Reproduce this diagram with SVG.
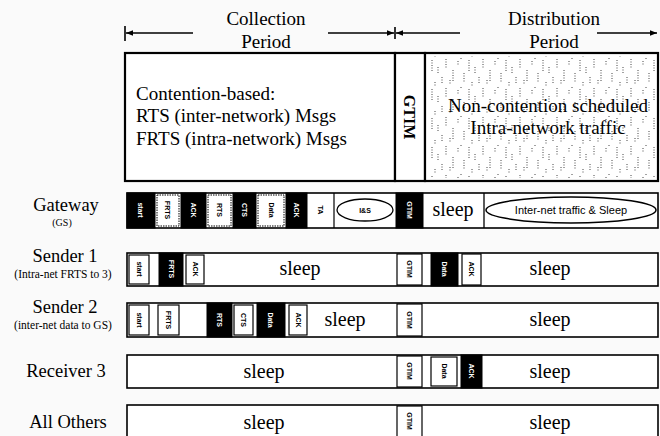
<svg xmlns="http://www.w3.org/2000/svg" width="660" height="436" viewBox="0 0 660 436">
<style>
.ser{font-family:"Liberation Serif","Times New Roman",serif;fill:#000}
.big{font-size:19px}
.lab{font-size:18.5px}
.sub{font-size:11.5px}
.sl{font-size:20px}
.tiny{font-family:"Liberation Sans",Arial,sans-serif;font-size:7px;font-weight:bold}
.wt{fill:#fff}
.bt{fill:#000}
.row{fill:#fff;stroke:#000;stroke-width:1.6}
.blk{fill:#000;stroke:#000;stroke-width:1}
.wb{fill:#fff;stroke:#000;stroke-width:1.2}
.wd{fill:#fff;stroke:#000;stroke-width:1;stroke-dasharray:1.5 1}
.thick{fill:#fff;stroke:#000;stroke-width:2.2}
.arr{stroke:#000;stroke-width:1.6;fill:none}
</style>
<defs>
<marker id="ah" viewBox="0 0 10 10" refX="10" refY="5" markerWidth="7" markerHeight="7" orient="auto-start-reverse" markerUnits="userSpaceOnUse">
<path d="M0 1L10 5L0 9z" fill="#000"/>
</marker>
<pattern id="noise" width="37" height="29" patternUnits="userSpaceOnUse">
<path d="M2 1v9M9 12v11M14 3v5M20 15v9M25 2v12M31 9v7M35 19v6M6 22v5M17 0v2M28 24v4" stroke="#444" stroke-width="1" stroke-dasharray="1 1.5"/>
</pattern>
</defs>
<rect width="660" height="436" fill="#fafafa"/>

<g id="connectors">
<line x1="125" y1="26" x2="125" y2="41" class="arr"/>
<line x1="193" y1="33" x2="126" y2="33" class="arr" marker-end="url(#ah)"/>
<line x1="328" y1="33" x2="394" y2="33" class="arr" marker-end="url(#ah)"/>
<line x1="395" y1="27" x2="395" y2="39" class="arr"/>
<line x1="460" y1="33" x2="396" y2="33" class="arr" marker-end="url(#ah)"/>
<line x1="597" y1="33" x2="657" y2="33" class="arr" marker-end="url(#ah)"/>
</g>

<g id="collection-label">
<text x="266" y="25" class="ser big" text-anchor="middle">Collection</text>
<text x="266" y="48" class="ser big" text-anchor="middle">Period</text>
</g>
<g id="distribution-label">
<text x="554" y="25" class="ser big" text-anchor="middle">Distribution</text>
<text x="554" y="48" class="ser big" text-anchor="middle">Period</text>
</g>

<g id="collection-box">
<rect x="125" y="53" width="270" height="128" class="thick"/>
<text x="136" y="100" class="ser big">Contention-based:</text>
<text x="136" y="122" class="ser big">RTS (inter-network) Msgs</text>
<text x="136" y="145" class="ser big">FRTS (intra-network) Msgs</text>
</g>
<g id="gtim-box">
<rect x="395" y="53" width="30" height="128" class="thick"/>
<text transform="translate(404,117) rotate(90)" class="ser" font-size="16" font-weight="bold" text-anchor="middle">GTIM</text>
</g>
<g id="distribution-box">
<rect x="425" y="53" width="233" height="128" class="thick"/>
<rect x="428" y="56" width="228" height="122" fill="url(#noise)"/>
<text x="548" y="112" class="ser big" text-anchor="middle">Non-contention scheduled</text>
<text x="548" y="134" class="ser big" text-anchor="middle">Intra-network traffic</text>
</g>

<g id="gateway">
<text x="66" y="211" class="ser lab" text-anchor="middle">Gateway</text>
<text x="62" y="226" class="ser" font-size="10" text-anchor="middle">(GS)</text>
<rect x="127" y="193" width="531" height="35" class="row"/>
<rect x="127" y="193" width="28" height="35" class="blk"/>
<text transform="translate(138,210) rotate(90)" class="tiny wt" text-anchor="middle">start</text>
<rect x="157" y="195" width="22" height="31" class="wd"/>
<text transform="translate(165,210) rotate(90)" class="tiny bt" text-anchor="middle">FRTS</text>
<rect x="181" y="193" width="25" height="35" class="blk"/>
<text transform="translate(191,210) rotate(90)" class="tiny wt" text-anchor="middle">ACK</text>
<rect x="208" y="195" width="23" height="31" class="wd"/>
<text transform="translate(217,210) rotate(90)" class="tiny bt" text-anchor="middle">RTS</text>
<rect x="233" y="193" width="23" height="35" class="blk"/>
<text transform="translate(242,210) rotate(90)" class="tiny wt" text-anchor="middle">CTS</text>
<rect x="258" y="195" width="26" height="31" class="wd"/>
<text transform="translate(269,210) rotate(90)" class="tiny bt" text-anchor="middle">Data</text>
<rect x="286" y="193" width="21" height="35" class="blk"/>
<text transform="translate(294,210) rotate(90)" class="tiny wt" text-anchor="middle">ACK</text>
<line x1="334" y1="193" x2="334" y2="228" stroke="#000" stroke-width="1.2"/>
<text transform="translate(318,210) rotate(90)" class="tiny bt" font-size="8" text-anchor="middle">TA</text>
<ellipse cx="365" cy="210" rx="28" ry="11" fill="#fff" stroke="#000" stroke-width="1.3"/>
<text x="365" y="213" class="tiny bt" font-size="8" text-anchor="middle">I&amp;S</text>
<rect x="396" y="193" width="27" height="35" class="blk"/>
<text transform="translate(407,210) rotate(90)" class="tiny wt" text-anchor="middle">GTIM</text>
<text x="453" y="216" class="ser sl" text-anchor="middle">sleep</text>
<line x1="484" y1="193" x2="484" y2="228" stroke="#000" stroke-width="1.3"/>
<ellipse cx="571" cy="210" rx="85" ry="13" fill="#fff" stroke="#000" stroke-width="1.5"/>
<text x="571" y="214" font-family="Liberation Sans,Arial,sans-serif" font-size="11" text-anchor="middle">Inter-net traffic &amp; Sleep</text>
</g>

<g id="sender1">
<text x="65" y="262" class="ser lab" text-anchor="middle">Sender 1</text>
<text x="63" y="278" class="ser sub" text-anchor="middle">(Intra-net FRTS to 3)</text>
<rect x="127" y="253" width="531" height="33" class="row"/>
<rect x="129" y="255" width="20" height="29" class="wb"/>
<text transform="translate(137,269) rotate(90)" class="tiny bt" text-anchor="middle">start</text>
<rect x="159" y="253" width="24" height="33" class="blk"/>
<text transform="translate(169,269) rotate(90)" class="tiny wt" text-anchor="middle">FRTS</text>
<rect x="186" y="255" width="18" height="29" class="wb"/>
<text transform="translate(193,269) rotate(90)" class="tiny bt" text-anchor="middle">ACK</text>
<text x="300" y="275" class="ser sl" text-anchor="middle">sleep</text>
<rect x="397" y="254" width="25" height="31" class="wb"/>
<text transform="translate(407,269) rotate(90)" class="tiny bt" text-anchor="middle">GTIM</text>
<rect x="431" y="253" width="27" height="33" class="blk"/>
<text transform="translate(442,269) rotate(90)" class="tiny wt" text-anchor="middle">Data</text>
<rect x="462" y="254" width="19" height="31" class="wb"/>
<text transform="translate(469,269) rotate(90)" class="tiny bt" text-anchor="middle">ACK</text>
<text x="550" y="275" class="ser sl" text-anchor="middle">sleep</text>
</g>

<g id="sender2">
<text x="65" y="313" class="ser lab" text-anchor="middle">Sender 2</text>
<text x="63" y="329" class="ser sub" text-anchor="middle">(inter-net data to GS)</text>
<rect x="127" y="303" width="531" height="34" class="row"/>
<rect x="129" y="305" width="20" height="30" class="wb"/>
<text transform="translate(137,320) rotate(90)" class="tiny bt" text-anchor="middle">start</text>
<rect x="158" y="305" width="21" height="30" class="wb"/>
<text transform="translate(166,320) rotate(90)" class="tiny bt" text-anchor="middle">FRTS</text>
<rect x="207" y="303" width="25" height="34" class="blk"/>
<text transform="translate(217,320) rotate(90)" class="tiny wt" text-anchor="middle">RTS</text>
<rect x="234" y="305" width="19" height="30" class="wb"/>
<text transform="translate(241,320) rotate(90)" class="tiny bt" text-anchor="middle">CTS</text>
<rect x="257" y="303" width="28" height="34" class="blk"/>
<text transform="translate(268,320) rotate(90)" class="tiny wt" text-anchor="middle">Data</text>
<rect x="289" y="305" width="18" height="30" class="wb"/>
<text transform="translate(296,320) rotate(90)" class="tiny bt" text-anchor="middle">ACK</text>
<text x="345" y="326" class="ser sl" text-anchor="middle">sleep</text>
<rect x="397" y="304" width="25" height="32" class="wb"/>
<text transform="translate(407,320) rotate(90)" class="tiny bt" text-anchor="middle">GTIM</text>
<text x="550" y="326" class="ser sl" text-anchor="middle">sleep</text>
</g>

<g id="receiver3">
<text x="66" y="377" class="ser lab" text-anchor="middle">Receiver 3</text>
<rect x="127" y="355" width="531" height="33" class="row"/>
<text x="264" y="378" class="ser sl" text-anchor="middle">sleep</text>
<rect x="397" y="356" width="25" height="31" class="wb"/>
<text transform="translate(407,371) rotate(90)" class="tiny bt" text-anchor="middle">GTIM</text>
<rect x="431" y="357" width="26" height="29" class="wb"/>
<text transform="translate(442,371) rotate(90)" class="tiny bt" text-anchor="middle">Data</text>
<rect x="461" y="355" width="21" height="33" class="blk"/>
<text transform="translate(469,371) rotate(90)" class="tiny wt" text-anchor="middle">ACK</text>
<text x="550" y="378" class="ser sl" text-anchor="middle">sleep</text>
</g>

<g id="all-others">
<text x="68" y="428" class="ser lab" text-anchor="middle">All Others</text>
<rect x="127" y="405" width="531" height="33" class="row"/>
<text x="264" y="429" class="ser sl" text-anchor="middle">sleep</text>
<rect x="397" y="406" width="25" height="31" class="wb"/>
<text transform="translate(407,421) rotate(90)" class="tiny bt" text-anchor="middle">GTIM</text>
<text x="550" y="429" class="ser sl" text-anchor="middle">sleep</text>
</g>
</svg>
